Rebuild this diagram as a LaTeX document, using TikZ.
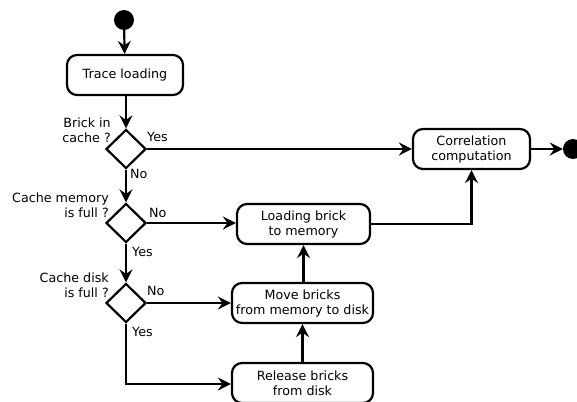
\documentclass[tikz,border=0pt]{standalone}
\usepackage{fontspec}
\setmainfont{DejaVu Sans}
\usetikzlibrary{arrows.meta,shapes.geometric}
\begin{document}
\begin{tikzpicture}[x=1pt,y=-1pt,
  every node/.style={font=\fontsize{12.7}{15}\selectfont},
  actbox/.style={draw,line width=2.2pt,rounded corners=10pt,minimum height=40pt,inner sep=1pt,align=center},
  decision/.style={draw,diamond,line width=2.2pt,minimum width=40pt,minimum height=39pt,inner sep=0pt},
  dot/.style={circle,fill=black,minimum size=20pt,inner sep=0pt},
  flow/.style={line width=2.2pt,-{Stealth[length=13pt,width=13pt,inset=4.5pt]}},
  lbl/.style={inner sep=0pt}
]
\useasboundingbox (0,0) rectangle (577,401);
\clip (0,0) rectangle (577,401);
\node[dot] (start) at (124,20) {};
\node[actbox,minimum width=116pt] (trace) at (125,75) {Trace loading};
\node[decision] (d1) at (126,149) {};
\node[decision] (d2) at (126,223) {};
\node[decision] (d3) at (126,303) {};
\node[actbox,minimum width=117pt] (corr) at (471.5,149) {Correlation\\computation};
\node[actbox,minimum width=133pt] (load) at (303.5,224) {Loading brick\\to memory};
\node[actbox,minimum width=141pt] (move) at (302.5,303) {Move bricks\\from memory to disk};
\node[actbox,minimum width=141pt] (rel) at (302.5,383) {Release bricks\\from disk};
\node[dot] (end) at (573,149) {};
\coordinate (corner) at (126,384);

\node[lbl,anchor=east,align=right] at (111,130) {Brick in\\cache ?};
\node[lbl,anchor=east,align=right] at (109,205) {Cache memory\\is full ?};
\node[lbl,anchor=east,align=right] at (109,285) {Cache disk\\is full ?};
\node[lbl,anchor=west] at (147,137) {Yes};
\node[lbl,anchor=west] at (130,174) {No};
\node[lbl,anchor=west] at (149,213) {No};
\node[lbl,anchor=west] at (132,252) {Yes};
\node[lbl,anchor=west] at (147,291) {No};
\node[lbl,anchor=west] at (132,332) {Yes};

\draw[flow] (start) -- (trace);
\draw[flow] (trace.south -| d1.north) -- (d1.north);
\draw[flow] (d1) -- (corr);
\draw[flow] (d1) -- (d2);
\draw[flow] (d2) -- (d3);
\draw[flow] (d2.east) -- (load.west |- d2.east);
\draw[flow] (d3.east) -- (move.west |- d3.east);
\draw[flow] (d3.south) -- (corner) -- (rel.west |- corner);
\draw[flow] (rel) -- (move);
\draw[flow] (move.north -| load.south) -- (load.south);
\draw[flow] (load.east) -| (corr.south);
\draw[flow] (corr) -- (end);
\end{tikzpicture}
\end{document}
